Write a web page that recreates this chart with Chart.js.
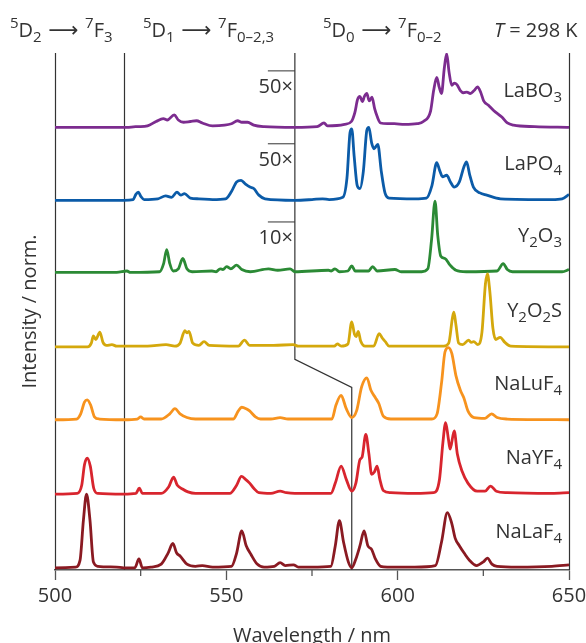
<!DOCTYPE html>
<html>
<head>
<meta charset="utf-8">
<script src="https://cdn.jsdelivr.net/npm/chart.js@4"></script>
<style>
  html, body { margin: 0; padding: 0; background: #fff; }
</style>
</head>
<body>
<canvas id="espectros" width="586" height="643"></canvas>
<script>
// Espectros de emissão (comprimento de onda em nm, intensidade normalizada)
const naLaF4 = [[500,0],[506,0.01],[507.3,0.1],[508.3,0.65],[509.2,1.0],[510.2,0.65],[511.2,0.08],[512.5,0.02],[518,0.01],[520,0],[523.3,0],[524.5,0.12],[525.5,0],[528,0.01],[531,0.05],[533,0.2],[534.4,0.33],[535.5,0.2],[536.5,0.16],[538.5,0.05],[541,0.02],[543,0.03],[546,0.01],[551.5,0.02],[553,0.2],[554.5,0.5],[555.8,0.3],[557.2,0.18],[559,0.05],[561,0.01],[564,0.02],[565.7,0.07],[567.2,0.03],[569.6,0.04],[571,0.01],[575,0.01],[580.5,0.02],[581.8,0.3],[583,0.64],[584.2,0.35],[585.6,0.08],[586.6,0],[587.8,0.12],[589,0.3],[590.2,0.5],[591.3,0.3],[592.4,0.25],[593.5,0.12],[595,0.02],[597,0.01],[605,0.01],[611,0.03],[612.8,0.35],[614.5,0.75],[615.8,0.6],[616.8,0.4],[618,0.3],[619.4,0.2],[621,0.1],[623,0.03],[625,0.08],[626.2,0.13],[627.5,0.05],[629,0.02],[635,0.01],[645,0.02],[650,0.04]];
const naYF4 = [[500,0],[506.5,0.01],[507.8,0.12],[508.6,0.4],[509.4,0.49],[510.3,0.38],[511.3,0.08],[512.5,0.01],[520,0],[523.6,0.01],[524.6,0.08],[525.5,0.01],[531,0.01],[533.2,0.1],[534.6,0.23],[535.7,0.12],[537.2,0.07],[538.8,0.03],[541,0.01],[551,0.01],[553,0.12],[554.4,0.24],[555.6,0.2],[556.8,0.15],[558,0.08],[559.5,0.02],[563,0.01],[565.7,0.04],[567.5,0.02],[570,0.01],[580.5,0.01],[581.8,0.15],[583.5,0.38],[585,0.2],[586.6,0.04],[587.8,0.15],[589,0.47],[589.6,0.5],[590.7,0.81],[591.6,0.55],[592.4,0.27],[593.2,0.3],[594,0.38],[594.8,0.2],[595.8,0.05],[598,0.02],[605,0.01],[610.5,0.02],[612.2,0.2],[613.2,0.7],[614,0.97],[614.8,0.75],[615.3,0.61],[616.5,0.86],[617.4,0.55],[618.8,0.31],[620.5,0.15],[623.2,0.04],[625.5,0.04],[627.1,0.11],[628.8,0.04],[632,0.02],[645,0.01],[650,0.02]];
const naLuF4 = [[500,0],[506.3,0.01],[507.5,0.08],[508.6,0.24],[509.4,0.27],[510.4,0.2],[511.5,0.04],[513,0.01],[520,0],[524,0.01],[525,0.04],[526,0.01],[531,0.01],[533.5,0.08],[535,0.15],[536.5,0.08],[538.5,0.03],[541,0.01],[552,0.01],[553.5,0.12],[554.5,0.17],[555.8,0.15],[556.8,0.12],[558.5,0.04],[560,0.01],[563,0.01],[565.7,0.03],[568,0.01],[580.8,0.01],[582,0.2],[583.5,0.33],[585,0.15],[586.6,0.03],[588,0.12],[589.5,0.45],[591,0.57],[592.2,0.4],[593.5,0.3],[594.5,0.22],[595.8,0.05],[598,0.01],[610,0.01],[611.5,0.08],[612.8,0.5],[613.8,0.92],[614.8,0.98],[615.8,0.9],[617,0.6],[618.3,0.4],[619.3,0.3],[620.5,0.12],[622.3,0.03],[625.5,0.02],[627.4,0.08],[629,0.03],[632,0.01],[650,0]];
const y2O2S = [[500,0],[509.5,0],[510.6,0.05],[511.2,0.15],[511.9,0.1],[513.1,0.2],[514,0.06],[515,0.02],[516.6,0.03],[518,0.01],[527,0.01],[532.4,0.03],[535,0.01],[536.5,0.05],[537.9,0.22],[538.5,0.19],[539.1,0.21],[540.2,0.05],[542,0.02],[543.5,0.07],[545,0.02],[553.5,0.01],[555.3,0.09],[556.8,0.02],[563.8,0.02],[569.5,0.03],[571,0.01],[581.5,0.01],[582.4,0.04],[583.5,0.01],[585.5,0.04],[586.6,0.34],[587.4,0.17],[587.9,0.14],[588.5,0.21],[589.2,0.08],[590.5,0.01],[593,0.01],[594.6,0.18],[595.5,0.12],[596.4,0.07],[597.5,0.01],[613.5,0.01],[614.9,0.05],[616,0.4],[616.4,0.47],[617,0.3],[617.8,0.05],[619,0.03],[620.7,0.09],[621.5,0.06],[622.2,0.07],[623.4,0.03],[624.6,0.2],[625.6,0.85],[626.2,0.99],[626.9,0.75],[627.8,0.25],[628.6,0.1],[629.9,0.13],[631.3,0.06],[633,0.01],[650,0]];
const y2O3 = [[500,0],[518,0],[521,0.02],[522,0],[530.5,0.01],[531.7,0.12],[532.6,0.31],[533.5,0.12],[534.5,0.02],[536,0.05],[537.3,0.19],[538.5,0.05],[540,0.01],[545.8,0.02],[547,0.01],[548.2,0.05],[549,0.04],[550.1,0.08],[551.3,0.05],[553,0.1],[554.5,0.04],[557,0.01],[562.3,0.05],[565,0.03],[568.6,0.05],[570,0.01],[579.8,0.03],[580.6,0.02],[581.7,0.05],[583,0.01],[585.5,0.02],[586.6,0.09],[587.6,0.02],[591.5,0.02],[592.7,0.08],[594,0.02],[599.2,0.04],[601,0.01],[607,0.01],[608.8,0.05],[609.9,0.45],[610.9,0.97],[611.7,0.5],[612.6,0.22],[613.8,0.19],[615.3,0.1],[617,0.03],[620,0.01],[629,0.02],[630.8,0.12],[632,0.04],[633.5,0.01],[648,0.01],[650,0.04]];
const laPO4 = [[500,0],[520,0],[522.8,0.01],[523.6,0.08],[524.3,0.11],[525.1,0.05],[526,0.01],[530,0.02],[532.3,0.06],[534,0.04],[535.6,0.11],[536.7,0.07],[537.8,0.09],[539.5,0.03],[542,0.02],[546,0.01],[549.8,0.02],[551.5,0.12],[553,0.25],[554.3,0.27],[555.6,0.22],[556.9,0.18],[558,0.16],[559.5,0.07],[561.3,0.02],[570,0],[575,0.01],[578.1,0.02],[580,0.01],[584,0.04],[585.2,0.3],[586.1,0.92],[586.6,0.97],[587.3,0.6],[588.2,0.2],[589,0.16],[590,0.4],[591,0.95],[591.6,0.99],[592.4,0.78],[593.1,0.7],[594.2,0.76],[595.2,0.4],[596.3,0.1],[597.5,0.03],[605,0.02],[608.4,0.03],[610,0.2],[611.4,0.51],[612.3,0.4],[613.1,0.32],[614.3,0.34],[615.4,0.25],[616.5,0.18],[618,0.25],[619.3,0.45],[620.1,0.52],[621,0.35],[622.1,0.18],[624,0.1],[626,0.07],[630,0.02],[645,0.01],[648,0.02],[650,0.08]];
const laBO3 = [[500,0],[521,0],[523.5,0.01],[525,0.01],[527,0.02],[529.5,0.08],[531.6,0.12],[532.8,0.1],[534.8,0.17],[536,0.1],[537.5,0.07],[539.5,0.08],[541.3,0.09],[543,0.06],[546,0.02],[549.5,0.03],[551.5,0.05],[553.3,0.09],[554.5,0.07],[556.2,0.07],[558,0.03],[561,0.01],[570,0],[576.5,0.01],[578.5,0.06],[579.5,0.02],[584.5,0.04],[586.5,0.08],[587.5,0.2],[588.3,0.38],[589,0.42],[589.7,0.35],[590.3,0.42],[591,0.46],[591.7,0.36],[592.5,0.41],[593.3,0.25],[594,0.15],[595,0.06],[597,0.05],[599,0.05],[602,0.04],[605.7,0.05],[607.5,0.08],[609.6,0.22],[610.5,0.5],[611.4,0.68],[612.1,0.55],[612.8,0.46],[613.6,0.8],[614.3,1.0],[615,0.75],[615.8,0.57],[616.5,0.6],[617.3,0.58],[618.3,0.5],[619.2,0.47],[620.2,0.48],[621.2,0.46],[622.3,0.5],[623.3,0.55],[624.2,0.48],[625.1,0.36],[626.5,0.3],[628,0.23],[630.4,0.14],[632,0.06],[633.8,0.03],[640,0.01],[650,0]];

// de baixo para cima
const espectros = [naLaF4, naYF4, naLuF4, y2O2S, y2O3, laPO4, laBO3];
const deslocamentos = [0.03, 1.03, 2.04, 3.03, 4.04, 5.02, 6.01];
const nomes = [
  [['NaLaF', 'n'], ['4', 'sub']],
  [['NaYF', 'n'], ['4', 'sub']],
  [['NaLuF', 'n'], ['4', 'sub']],
  [['Y', 'n'], ['2', 'sub'], ['O', 'n'], ['2', 'sub'], ['S', 'n']],
  [['Y', 'n'], ['2', 'sub'], ['O', 'n'], ['3', 'sub']],
  [['LaPO', 'n'], ['4', 'sub']],
  [['LaBO', 'n'], ['3', 'sub']]
];
const cores = ['#8a1a22', '#d8252e', '#f7931e', '#d4a80c', '#2b8a35', '#0b5ba8', '#7c2c8f'];

// fatores de ampliação (texto, amostra)
const fatores = [['50×', 6], ['50×', 5], ['10×', 4]];

// transições no topo
const transicoes = [
  [['5', 'sup'], ['D', 'n'], ['2', 'sub'], [' ⟶ ', 'seta'], ['7', 'sup'], ['F', 'n'], ['3', 'sub']],
  [['5', 'sup'], ['D', 'n'], ['1', 'sub'], [' ⟶ ', 'seta'], ['7', 'sup'], ['F', 'n'], ['0–2,3', 'sub']],
  [['5', 'sup'], ['D', 'n'], ['0', 'sub'], [' ⟶ ', 'seta'], ['7', 'sup'], ['F', 'n'], ['0–2', 'sub']],
  [['T', 'i'], [' = 298 K', 'n']]
];
const posTransicoes = [10, 143, 323, 494];

const Y_MAX = 7.02;
const COR_TEXTO = '#333';

function fonte(tipo) {
  if (tipo === 'sup' || tipo === 'sub') return '15px "Open Sans"';
  if (tipo === 'i') return 'italic 20px "Open Sans"';
  if (tipo === 'seta') return '21px "DejaVu Sans"';
  return '20px "Open Sans"';
}
const subida = { n: 0, i: 0, seta: 0, sup: -9, sub: 5 };

function textoRico(ctx, partes, x, y, alinh) {
  let largura = 0;
  partes.forEach(([s, t]) => { ctx.font = fonte(t); largura += ctx.measureText(s).width; });
  let cx = alinh === 'right' ? x - largura : x;
  ctx.textAlign = 'left';
  ctx.textBaseline = 'alphabetic';
  partes.forEach(([s, t]) => {
    ctx.font = fonte(t);
    ctx.fillText(s, cx, y + subida[t]);
    cx += ctx.measureText(s).width;
  });
}

const anotacoes = {
  id: 'anotacoes',
  beforeDatasetsDraw(chart) {
    const { ctx, scales: { x, y } } = chart;
    const topo = y.getPixelForValue(Y_MAX);
    const base = y.getPixelForValue(0);
    ctx.save();
    ctx.strokeStyle = '#333';
    ctx.lineWidth = 1.2;
    [500, 520, 650].forEach(v => {
      const px = Math.round(x.getPixelForValue(v)) + 0.5;
      ctx.beginPath(); ctx.moveTo(px, topo); ctx.lineTo(px, base); ctx.stroke();
    });
    // linha quebrada entre 570 e 586,6 nm
    ctx.beginPath();
    ctx.moveTo(x.getPixelForValue(570), topo);
    ctx.lineTo(x.getPixelForValue(570), y.getPixelForValue(2.86));
    ctx.lineTo(x.getPixelForValue(586.6), y.getPixelForValue(2.48));
    ctx.lineTo(x.getPixelForValue(586.6), base);
    ctx.stroke();
    // marcas menores do eixo
    ctx.strokeStyle = '#555';
    ctx.lineWidth = 1.3;
    [525, 575, 625].forEach(v => {
      const px = x.getPixelForValue(v);
      ctx.beginPath(); ctx.moveTo(px, base); ctx.lineTo(px, base + 6); ctx.stroke();
    });
    ctx.restore();
  },
  afterDraw(chart) {
    const { ctx, scales: { x, y } } = chart;
    ctx.save();
    ctx.fillStyle = COR_TEXTO;
    transicoes.forEach((p, i) => textoRico(ctx, p, posTransicoes[i], 37));
    nomes.forEach((p, i) => textoRico(ctx, p, x.right - 7, y.getPixelForValue(deslocamentos[i]) - 30, 'right'));
    // fatores de escala com traço por cima
    const x570 = x.getPixelForValue(570);
    ctx.strokeStyle = '#333';
    ctx.lineWidth = 1;
    fatores.forEach(([txt, i]) => {
      const b = y.getPixelForValue(deslocamentos[i]);
      const alto = i === 4 ? b - 51 : b - 57;
      const linhaBase = i === 4 ? b - 28 : b - 34;
      ctx.beginPath(); ctx.moveTo(x570 - 27, alto + 0.5); ctx.lineTo(x570, alto + 0.5); ctx.stroke();
      ctx.font = '20px "Open Sans"';
      ctx.textAlign = 'right';
      ctx.fillText(txt, x570 - 2, linhaBase);
    });
    ctx.restore();
  }
};

new Chart(document.getElementById('espectros'), {
  type: 'line',
  data: {
    datasets: espectros.map((serie, i) => ({
      data: serie.map(([wl, v]) => ({ x: wl, y: v + deslocamentos[i] })),
      borderColor: cores[i],
      borderWidth: 2.8,
      pointRadius: 0,
      cubicInterpolationMode: 'monotone',
      fill: false
    }))
  },
  options: {
    responsive: false,
    animation: false,
    layout: { padding: { left: 8, right: 0, top: 53, bottom: -5 } },
    plugins: { legend: { display: false }, tooltip: { enabled: false } },
    scales: {
      x: {
        type: 'linear',
        min: 500,
        max: 650,
        // o rótulo "650" passa um pouco da borda direita
        afterFit: s => { s.paddingRight = 17; },
        border: { color: '#555', width: 1.5 },
        grid: {
          drawOnChartArea: false,
          tickLength: 10,
          tickWidth: 1.3,
          tickColor: c => (c.tick && c.tick.value % 50 === 0) ? '#555' : 'rgba(0,0,0,0)'
        },
        ticks: {
          stepSize: 25,
          autoSkip: false,
          maxRotation: 0,
          padding: 4,
          color: COR_TEXTO,
          font: { family: 'Open Sans', size: 20 },
          callback: v => v % 50 === 0 ? v : ''
        },
        title: {
          display: true,
          text: 'Wavelength / nm',
          color: COR_TEXTO,
          font: { family: 'Open Sans', size: 20 },
          padding: { top: 12, bottom: 0 }
        }
      },
      y: {
        min: 0,
        max: Y_MAX,
        grid: { display: false },
        border: { display: false },
        ticks: { display: false },
        title: {
          display: true,
          text: 'Intensity / norm.',
          color: COR_TEXTO,
          font: { family: 'Open Sans', size: 20 },
          padding: { top: 10, bottom: 5 }
        }
      }
    }
  },
  plugins: [anotacoes]
});
</script>
</body>
</html>
